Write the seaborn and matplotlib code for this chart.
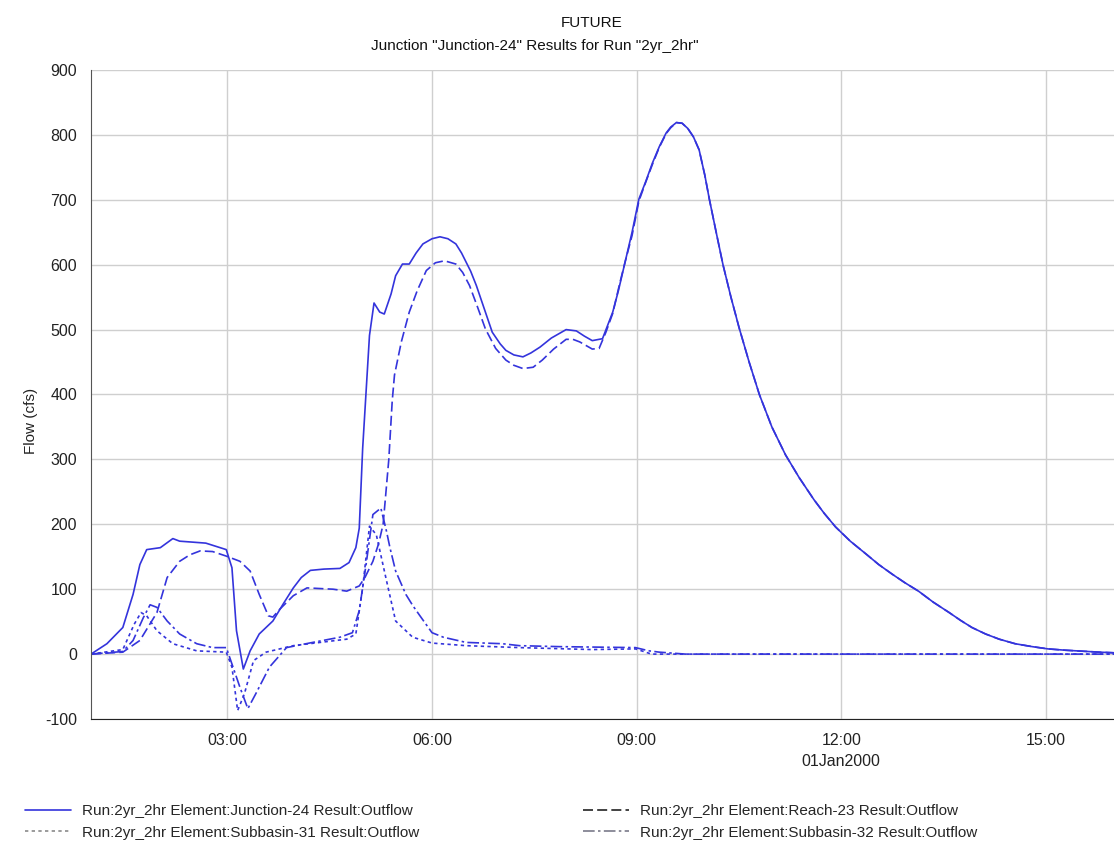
import matplotlib
matplotlib.use("Agg")
import matplotlib.pyplot as plt
from matplotlib.lines import Line2D
import seaborn as sns
import pandas as pd

# --- data (time of day on 01Jan2000, flow in cfs) ---
jn_time = ["01:00", "01:14", "01:28", "01:37", "01:43", "01:49", "02:01", "02:12", "02:18", "02:41",
           "02:59", "03:04", "03:08", "03:14", "03:20", "03:28", "03:40", "03:49", "03:58", "04:05",
           "04:13", "04:25", "04:39", "04:47", "04:53", "04:56", "04:59", "05:05", "05:09", "05:14",
           "05:18", "05:24", "05:28", "05:34", "05:40", "05:46", "05:52", "06:00", "06:07", "06:14",
           "06:21", "06:26", "06:30", "06:34", "06:39", "06:46", "06:53", "07:00", "07:05", "07:12",
           "07:20", "07:27", "07:35", "07:45", "07:58", "08:07", "08:14", "08:21", "08:30", "08:39",
           "08:44", "08:48", "08:52", "08:56", "09:02", "09:08", "09:14", "09:20", "09:26", "09:30",
           "09:35", "09:40", "09:45", "09:50", "09:55", "10:00", "10:04", "10:10", "10:16", "10:23",
           "10:30", "10:39", "10:48", "10:59", "11:11", "11:23", "11:36", "11:45", "11:55", "12:08",
           "12:22", "12:33", "12:45", "12:56", "13:08", "13:21", "13:35", "13:45", "13:55", "14:07",
           "14:19", "14:33", "14:48", "15:02", "15:17", "15:32", "15:47", "16:00"]
jn_flow = [0, 16, 41, 92, 138, 161, 164, 178, 174, 171,
           161, 133, 36, -23, 5, 31, 51, 77, 102, 118,
           129, 131, 132, 141, 164, 194, 317, 491, 541, 527,
           524, 555, 583, 601, 601, 618, 632, 640, 643, 640,
           632, 618, 604, 590, 568, 532, 496, 478, 468, 461,
           458, 464, 473, 487, 500, 498, 490, 483, 486, 527,
           560, 590, 620, 650, 701, 728, 757, 782, 803, 812,
           819, 818, 810, 797, 777, 738, 701, 650, 600, 550,
           504, 450, 400, 350, 307, 272, 238, 217, 196, 174,
           154, 138, 123, 110, 97, 80, 64, 52, 41, 31,
           23, 16, 11.5, 8, 6, 4.5, 3, 2]

rc_time = ["01:00", "01:28", "01:43", "01:58", "02:07", "02:18", "02:27", "02:36", "02:47", "02:59",
           "03:11", "03:20", "03:28", "03:36", "03:40", "03:46", "03:58", "04:10", "04:33", "04:45",
           "04:56", "05:01", "05:08", "05:13", "05:17", "05:22", "05:25", "05:27", "05:33", "05:40",
           "05:47", "05:55", "06:03", "06:11", "06:21", "06:27", "06:33", "06:40", "06:47", "06:56",
           "07:05", "07:12", "07:20", "07:29", "07:37", "07:47", "07:58", "08:04", "08:10", "08:21",
           "08:27", "08:33", "08:39", "08:45", "08:50", "08:56", "09:02", "09:08", "09:14", "09:20",
           "09:26", "09:30", "09:35", "09:40", "09:45", "09:50", "09:55", "10:00", "10:04", "10:10",
           "10:16", "10:23", "10:30", "10:39", "10:48", "10:59", "11:11", "11:23", "11:36", "11:45",
           "11:55", "12:08", "12:22", "12:33", "12:45", "12:56", "13:08", "13:21", "13:35", "13:45",
           "13:55", "14:07", "14:19", "14:33", "14:48", "15:02", "15:17", "15:32", "15:47", "16:00"]
rc_flow = [0, 3, 21, 64, 118, 143, 153, 159, 158, 151,
           143, 128, 92, 59, 57, 69, 90, 102, 100, 97,
           105, 118, 143, 170, 200, 300, 390, 430, 481, 527,
           560, 591, 603, 606, 601, 588, 568, 535, 501, 471,
           453, 445, 440, 442, 453, 470, 485, 485, 481, 470,
           471, 496, 525, 570, 605, 645, 698, 727, 755, 781,
           802, 811, 819, 818, 810, 797, 777, 738, 701, 650,
           600, 550, 504, 450, 400, 350, 307, 272, 238, 217,
           196, 174, 154, 138, 123, 110, 97, 80, 64, 52,
           41, 31, 23, 16, 11.5, 8, 6, 4.5, 3, 2]

s31_time = ["01:00", "01:28", "01:38", "01:44", "01:49", "01:58", "02:12", "02:33", "02:59", "03:04",
            "03:09", "03:15", "03:23", "03:34", "03:58", "04:45", "04:53", "04:59", "05:05", "05:11",
            "05:20", "05:28", "05:43", "06:00", "06:30", "07:17", "08:21", "08:59", "09:08", "09:13",
            "16:00"]
s31_flow = [0, 7, 46, 64, 59, 36, 16, 5, 3, -20,
            -87, -61, -10, 3, 13, 23, 31, 102, 197, 184,
            113, 51, 26, 17, 13, 10, 7, 8, 3, 0,
            0]

s32_time = ["01:00", "01:28", "01:37", "01:46", "01:52", "01:58", "02:07", "02:18", "02:33", "02:47",
            "02:59", "03:02", "03:11", "03:18", "03:25", "03:37", "03:52", "04:15", "04:39", "04:50",
            "04:56", "05:02", "05:08", "05:15", "05:20", "05:23", "05:28", "05:37", "05:43", "05:49",
            "06:00", "06:10", "06:30", "07:02", "07:17", "07:52", "08:59", "09:11", "09:20", "09:43",
            "16:00"]
s32_flow = [0, 4, 21, 56, 76, 72, 51, 31, 16, 10,
            10, -5, -51, -84, -61, -20, 10, 18, 26, 33,
            67, 138, 215, 225, 189, 164, 128, 92, 75, 60,
            33, 26, 18, 16, 13, 11.5, 10, 5, 3, 0,
            0]

series_names = ["Run:2yr_2hr Element:Junction-24 Result:Outflow",
                "Run:2yr_2hr Element:Reach-23 Result:Outflow",
                "Run:2yr_2hr Element:Subbasin-31 Result:Outflow",
                "Run:2yr_2hr Element:Subbasin-32 Result:Outflow"]
x_ticks = ["03:00", "06:00", "09:00", "12:00", "15:00"]
y_ticks = [-100, 0, 100, 200, 300, 400, 500, 600, 700, 800, 900]

BLUE = "#3434dc"
dash_map = {series_names[0]: "",
            series_names[1]: (6, 2.5),
            series_names[2]: (2, 2),
            series_names[3]: (7, 2, 1.5, 2)}
legend_colors = [BLUE, "#222222", "#8a8a8a", "#7a7a8a"]


def to_dt(times):
    return pd.to_datetime(["2000-01-01 " + t for t in times])


frames = []
for name, t, f in zip(series_names, [jn_time, rc_time, s31_time, s32_time],
                      [jn_flow, rc_flow, s31_flow, s32_flow]):
    frames.append(pd.DataFrame({"time": to_dt(t), "flow": f, "series": name}))
df = pd.concat(frames, ignore_index=True)

sns.set_style("white")
plt.rcParams["font.family"] = ["Liberation Sans", "DejaVu Sans"]

fig = plt.figure(figsize=(11.14, 8.51), dpi=100)
ax = fig.add_axes([91 / 1114, 132 / 851, 1023 / 1114, 649 / 851])

# draw the subbasins first so the main hydrographs sit on top
sns.lineplot(data=df, x="time", y="flow", hue="series", style="series",
             hue_order=series_names[::-1], style_order=series_names[::-1],
             palette={n: BLUE for n in series_names}, dashes=dash_map,
             estimator=None, sort=False, linewidth=1.2, legend=False, ax=ax)

ax.set_xlim(to_dt(["01:00"])[0], to_dt(["16:00"])[0])
ax.set_ylim(-100, 900)
ax.set_yticks(y_ticks)
ax.set_yticklabels([str(v) for v in y_ticks], fontsize=11.5, color="#222222")
ax.set_xticks(to_dt(x_ticks))
xlabels = [t if t != "12:00" else "12:00\n01Jan2000" for t in x_ticks]
ax.set_xticklabels(xlabels, fontsize=11.5, color="#222222")
for lbl in ax.get_xticklabels():
    lbl.set_linespacing(1.5)
ax.tick_params(axis="both", direction="out", length=6, width=1, color="#444444", pad=4)

ax.set_xlabel("")
ax.set_ylabel("Flow (cfs)", fontsize=11, color="#222222", labelpad=6)
ax.yaxis.set_label_coords(-0.052, 0.46)
ax.grid(True, color="#cfcfcf", linewidth=1)
ax.set_axisbelow(True)
for side in ["top", "right"]:
    ax.spines[side].set_visible(False)
ax.spines["left"].set_color("#555555")
ax.spines["bottom"].set_color("#222222")

fig.text(592 / 1114, 1 - 27 / 851, "FUTURE", ha="center", va="baseline", fontsize=11, color="#111111")
fig.text(535 / 1114, 1 - 50 / 851, 'Junction "Junction-24" Results for Run "2yr_2hr"',
         ha="center", va="baseline", fontsize=11, color="#111111")

handles = [Line2D([0], [0], color=c, linewidth=1.2,
                  linestyle="-" if dash_map[n] == "" else (0, dash_map[n]))
           for n, c in zip(series_names, legend_colors)]
leg_kw = dict(frameon=False, fontsize=11, handlelength=3.0, handletextpad=0.7,
              borderpad=0, borderaxespad=0, labelspacing=0.5, loc="upper left")
fig.legend([handles[0], handles[2]], [series_names[0], series_names[2]],
           bbox_to_anchor=(25 / 1114, 1 - 804 / 851), **leg_kw)
fig.legend([handles[1], handles[3]], [series_names[1], series_names[3]],
           bbox_to_anchor=(583 / 1114, 1 - 804 / 851), **leg_kw)

fig.savefig("out.png", dpi=100)
